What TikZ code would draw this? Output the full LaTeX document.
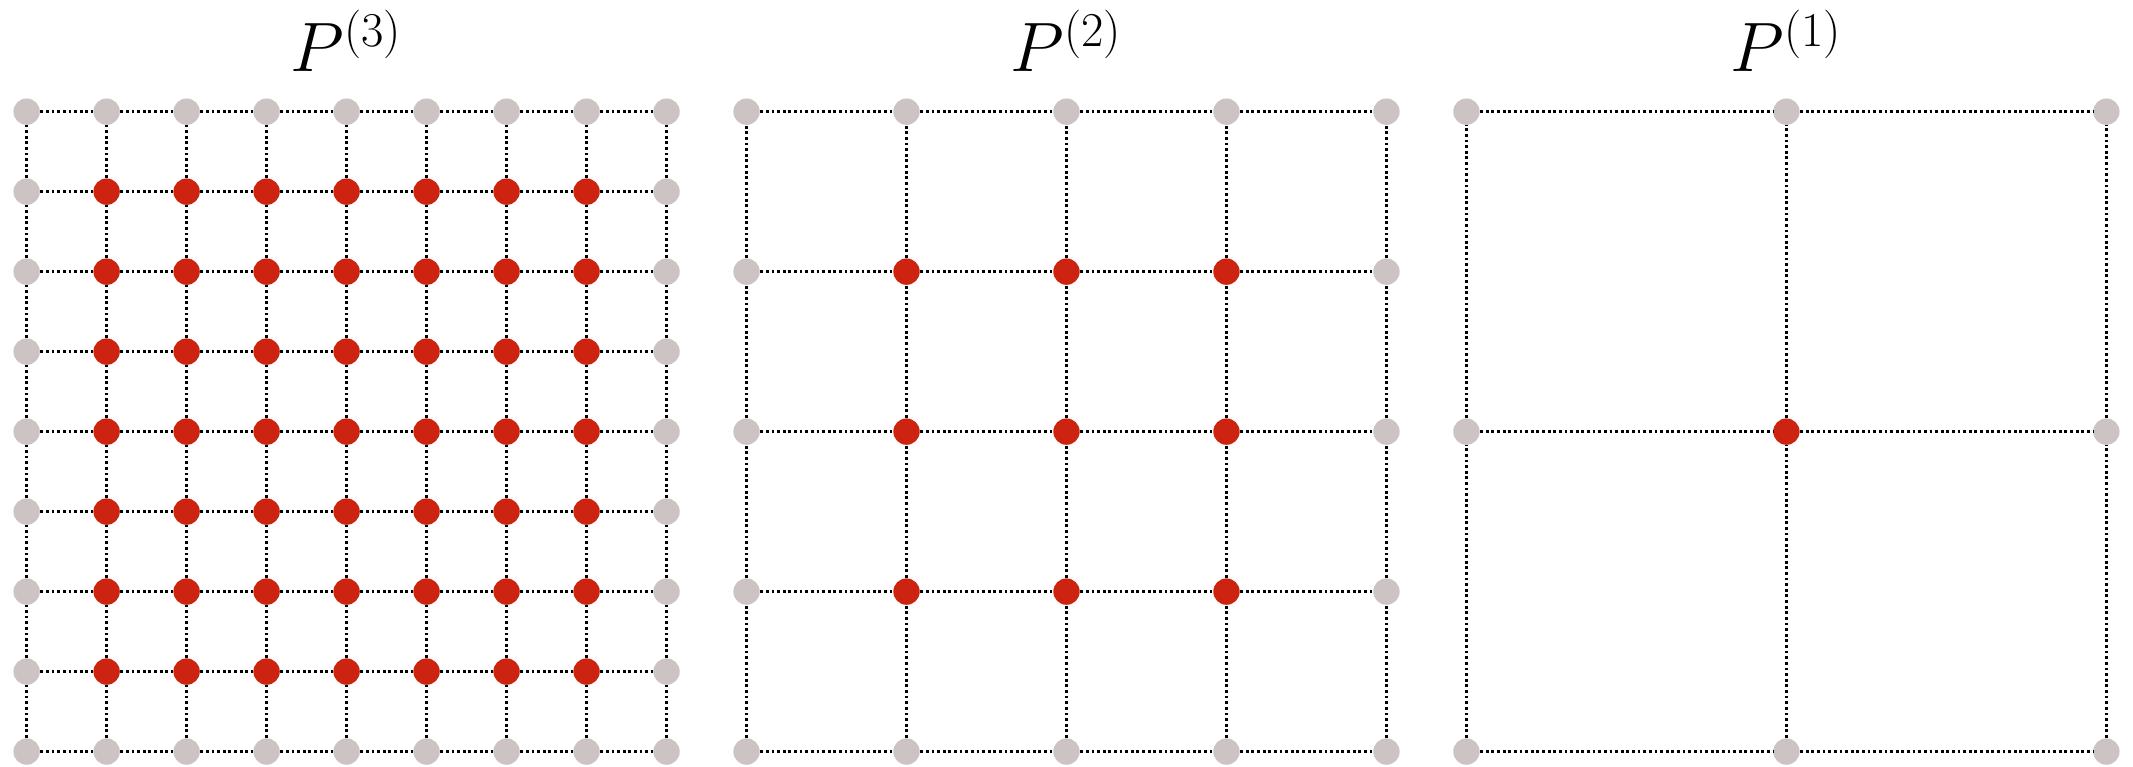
\documentclass[tikz,border=0pt]{standalone}
\usepackage{xcolor}
\usepackage{tikz}
\definecolor{ptRed}{HTML}{CC2410}
\definecolor{ptGray}{HTML}{CBC4C2}

\begin{document}
\begin{tikzpicture}[
  pt/.style={circle,inner sep=0pt,minimum size=3.3mm},
  inner/.style={pt,fill=ptRed},
  outer/.style={pt,fill=ptGray},
  gridline/.style={black,line width=1pt,dash pattern=on 1pt off 1pt},
  title/.style={anchor=base,font=\fontsize{23.5}{28}\selectfont}
]
\useasboundingbox (-0.333,-0.191) rectangle (26.333,9.396);
% one grid per level: x offset / intervals / spacing / level
\foreach \gx/\n/\s/\lab in {0/8/1/3, 9/4/2/2, 18/2/4/1}{
  \node[title] (t\lab) at (\gx+4,8.5) {$P^{(\lab)}$};
  \foreach \i in {0,...,\n}{
    \foreach \j in {0,...,\n}{
      \pgfmathtruncatemacro\rim{(\i==0)||(\i==\n)||(\j==0)||(\j==\n)}
      \ifnum\rim=1 \def\sty{outer}\else\def\sty{inner}\fi
      \node[\sty] (q\lab-\i-\j) at (\gx+\i*\s,\j*\s) {};
    }
  }
  \pgfmathtruncatemacro\nm{\n-1}
  \foreach \i [evaluate=\i as \ip using int(\i+1)] in {0,...,\nm}{
    \foreach \j in {0,...,\n}{
      \draw[gridline] (q\lab-\i-\j) -- (q\lab-\ip-\j);
      \draw[gridline] (q\lab-\j-\i) -- (q\lab-\j-\ip);
    }
  }
}
\end{tikzpicture}
\end{document}
